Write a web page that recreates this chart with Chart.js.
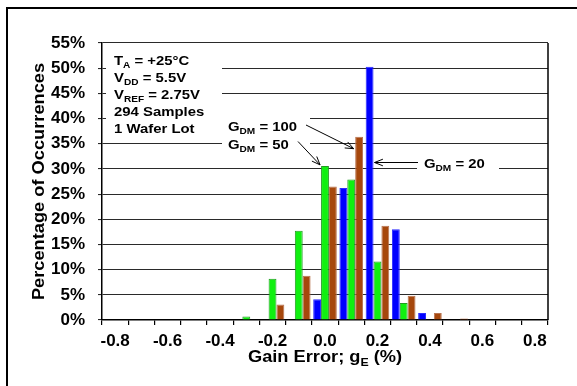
<!DOCTYPE html>
<html><head><meta charset="utf-8">
<script src="https://cdn.jsdelivr.net/npm/chart.js@4/dist/chart.umd.min.js"></script>
<style>html,body{margin:0;padding:0;background:#fff}canvas{display:block}</style>
</head><body>
<canvas id="c" width="577" height="386"></canvas>
<script>
// ---- data ----
const categories = ['-0.8','-0.7','-0.6','-0.5','-0.4','-0.3','-0.2','-0.1','0.0','0.1','0.2','0.3','0.4','0.5','0.6','0.7','0.8'];
const gdm20  = [0,0,0,0,0,0,0,0,4.1,26.2,50.3,18.0,1.4,0,0,0,0];     // blue
const gdm50  = [0,0,0,0,0,0.7,8.2,17.7,30.6,27.9,11.6,3.4,0,0,0,0,0]; // green
const gdm100 = [0,0,0,0,0,0,3.1,8.8,26.5,36.4,18.7,4.8,1.4,0.3,0,0,0]; // brown
const yMax = 55, yStep = 5;

const FONT = '"Liberation Sans", Arial, Helvetica, sans-serif';
const STRETCH = 1.12; // reference lettering is slightly wide

function rich(ctx, x, y, parts, size, subSize, subDrop, align) {
  ctx.save();
  ctx.textBaseline = 'alphabetic';
  ctx.textAlign = 'left';
  let total = 0;
  const widths = parts.map(p => {
    ctx.font = 'bold ' + (p[1] ? subSize : size) + 'px ' + FONT;
    const w = ctx.measureText(p[0]).width; total += w; return w;
  });
  const x0 = align === 'center' ? x - total * STRETCH / 2 : x;
  ctx.translate(x0, y);
  ctx.scale(STRETCH, 1);
  let cx = 0;
  parts.forEach((p, i) => {
    ctx.font = 'bold ' + (p[1] ? subSize : size) + 'px ' + FONT;
    ctx.fillText(p[0], cx, p[1] ? subDrop : 0);
    cx += widths[i];
  });
  ctx.restore();
}

function arrow(ctx, x1, y1, x2, y2) {
  ctx.save();
  ctx.strokeStyle = '#000'; ctx.lineWidth = 1;
  ctx.beginPath(); ctx.moveTo(x1, y1); ctx.lineTo(x2, y2); ctx.stroke();
  const a = Math.atan2(y2 - y1, x2 - x1), L = 9, s = 0.38;
  ctx.beginPath();
  ctx.moveTo(x2 - L * Math.cos(a - s), y2 - L * Math.sin(a - s));
  ctx.lineTo(x2, y2);
  ctx.lineTo(x2 - L * Math.cos(a + s), y2 - L * Math.sin(a + s));
  ctx.stroke();
  ctx.restore();
}

const annot = {
  id: 'annot',
  beforeDatasetsDraw(chart) {
    const ctx = chart.ctx;
    ctx.save();
    ctx.fillStyle = '#fff';
    ctx.fillRect(106, 47, 116, 90);   // conditions box
    ctx.fillRect(222, 113, 88, 44);   // G_DM 100 / 50 labels
    ctx.fillRect(109, 113, 113, 10);  // 40% line gap continues left
    ctx.fillRect(417, 150, 82, 26);   // G_DM 20 label
    ctx.restore();
  },
  afterDatasetsDraw(chart) {
    const ctx = chart.ctx, a = chart.chartArea;
    ctx.save();
    // plot frame right edge
    ctx.strokeStyle = '#000'; ctx.lineWidth = 1.5;
    ctx.beginPath(); ctx.moveTo(a.right, a.top); ctx.lineTo(a.right, a.bottom); ctx.stroke();
    ctx.fillStyle = '#000';
    const S = 13.3, s = 9, d = 3;
    rich(ctx, 114, 64.5, [['T'], ['A', 1], [' = +25°C']], S, s, d);
    rich(ctx, 114, 82, [['V'], ['DD', 1], [' = 5.5V']], S, s, d);
    rich(ctx, 114, 99, [['V'], ['REF', 1], [' = 2.75V']], S, s, d);
    rich(ctx, 114, 116, [['294 Samples']], S, s, d);
    rich(ctx, 114, 133, [['1 Wafer Lot']], S, s, d);
    rich(ctx, 228, 131, [['G'], ['DM', 1], [' = 100']], S, s, d);
    rich(ctx, 228, 149, [['G'], ['DM', 1], [' = 50']], S, s, d);
    rich(ctx, 424, 168, [['G'], ['DM', 1], [' = 20']], S, s, d);
    // arrows pointing at bars
    const b100 = chart.getDatasetMeta(2).data[9];
    const b50 = chart.getDatasetMeta(1).data[8];
    const b20 = chart.getDatasetMeta(0).data[10];
    arrow(ctx, 306, 125, b100.x - b100.width / 2 - 1.5, b100.y + 12);
    arrow(ctx, 298, 141.5, b50.x - b50.width / 2 - 1, b50.y - 1);
    arrow(ctx, 418, 162.5, b20.x + b20.width / 2 + 1, 162.5);
    // axis titles
    rich(ctx, (a.left + a.right) / 2, 361.5, [['Gain Error; g'], ['E', 1], [' (%)']], 16.3, 11, 4, 'center');
    ctx.save();
    ctx.translate(44, (a.top + a.bottom) / 2);
    ctx.rotate(-Math.PI / 2);
    rich(ctx, 0, 0, [['Percentage of Occurrences']], 16.3, 11, 4, 'center');
    ctx.restore();
    ctx.restore();
  },
  afterDraw(chart) {
    const ctx = chart.ctx;
    ctx.save();
    ctx.strokeStyle = '#000'; ctx.lineWidth = 2;
    ctx.strokeRect(7, 8, 700, 500);
    ctx.restore();
  }
};

new Chart(document.getElementById('c'), {
  type: 'bar',
  data: {
    labels: categories,
    datasets: [
      { label: 'G_DM = 20', data: gdm20, backgroundColor: '#0000ff', borderColor: '#2a2aff', borderWidth: 1 },
      { label: 'G_DM = 50', data: gdm50, backgroundColor: '#10f010', borderColor: '#229a22', borderWidth: 1 },
      { label: 'G_DM = 100', data: gdm100, backgroundColor: '#a6470c', borderColor: '#b87350', borderWidth: 1 }
    ]
  },
  options: {
    responsive: false,
    animation: false,
    devicePixelRatio: 1,
    layout: { padding: { top: 43, right: 29, left: 0, bottom: 0 } },
    plugins: { legend: { display: false }, tooltip: { enabled: false } },
    datasets: { bar: { categoryPercentage: 0.9, barPercentage: 1.0 } },
    scales: {
      x: {
        offset: true,
        afterFit: s => { s.height = 66; },
        grid: { display: true, offset: true, drawOnChartArea: false, drawTicks: true, tickLength: 5, color: '#000', lineWidth: 1.2 },
        border: { display: true, color: '#000', width: 1.5 },
        ticks: {
          autoSkip: false, maxRotation: 0, minRotation: 0, padding: 6, color: '#000',
          font: { family: FONT, size: 17, weight: 'bold' },
          callback: function (v, i) { return i % 2 === 0 ? categories[i] : ''; }
        }
      },
      y: {
        min: 0, max: yMax,
        afterFit: s => { s.width = 102; },
        grid: { color: '#2a2a2a', lineWidth: 1.1, tickLength: 4, drawTicks: true },
        border: { display: true, color: '#000', width: 1.5 },
        ticks: {
          stepSize: yStep, padding: 13, color: '#000',
          font: { family: FONT, size: 17, weight: 'bold' },
          callback: v => v + '%'
        }
      }
    }
  },
  plugins: [annot]
});
</script>
</body></html>
